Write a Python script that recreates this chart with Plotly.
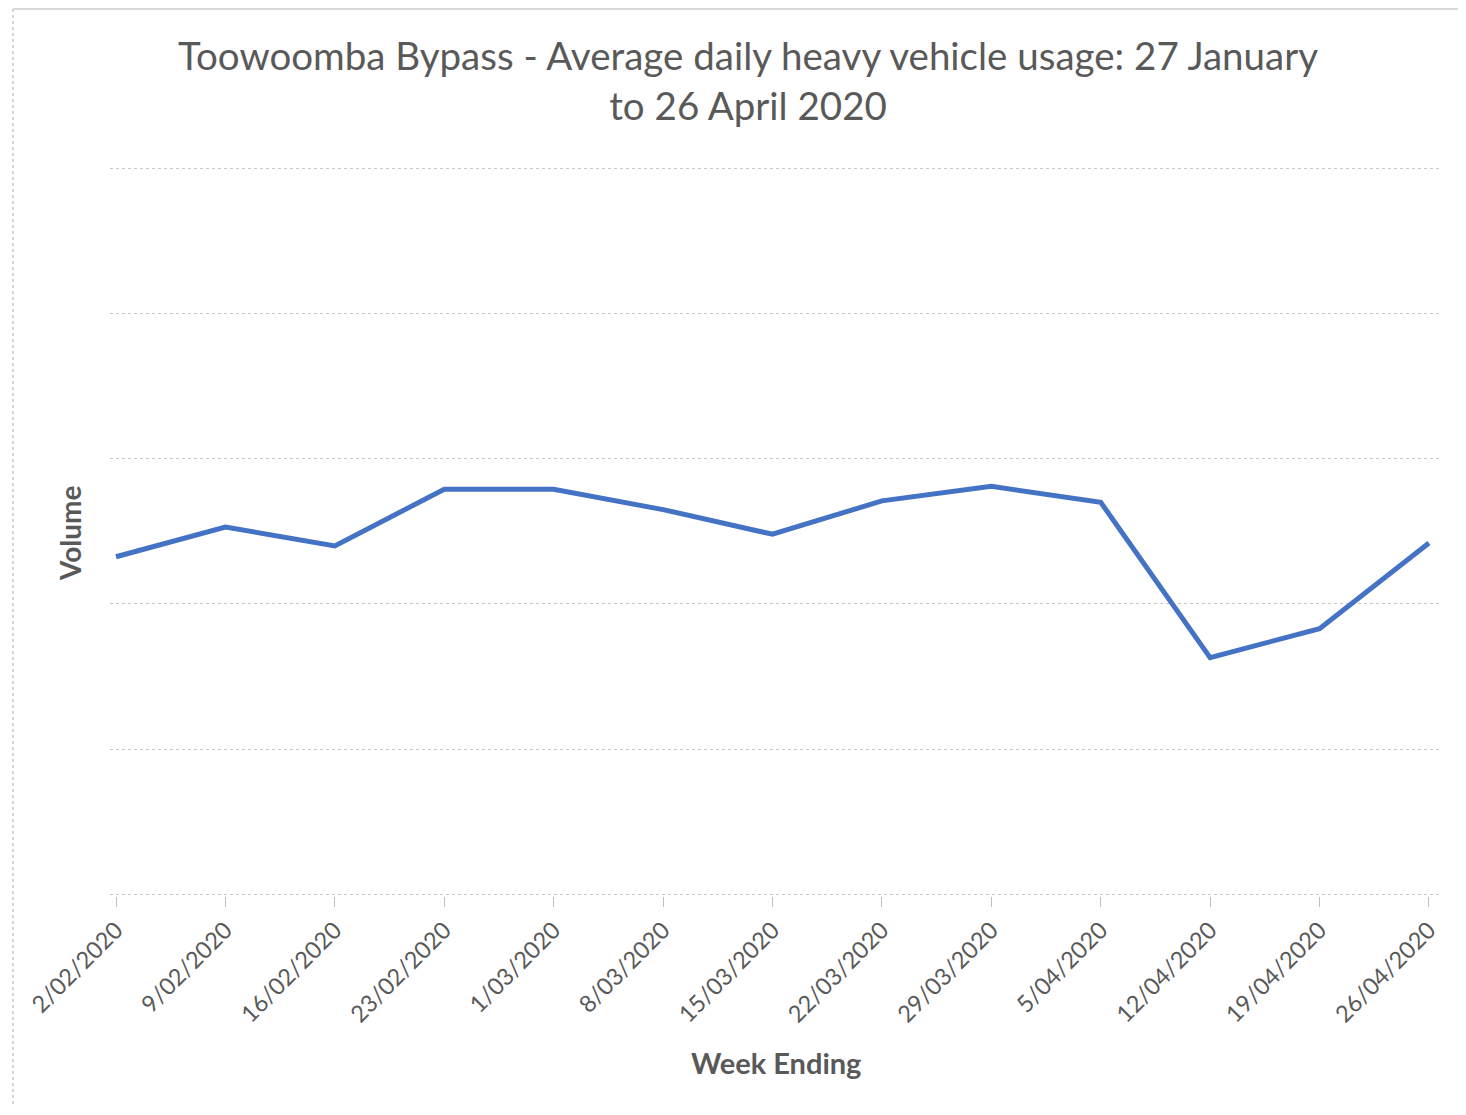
import plotly.graph_objects as go

# Week ending dates (category labels) and average daily heavy vehicle volume
week_ending = [
    "2/02/2020", "9/02/2020", "16/02/2020", "23/02/2020", "1/03/2020",
    "8/03/2020", "15/03/2020", "22/03/2020", "29/03/2020", "5/04/2020",
    "12/04/2020", "19/04/2020", "26/04/2020",
]
volume = [2325, 2530, 2400, 2790, 2790, 2650, 2480, 2710, 2810, 2700, 1630, 1830, 2420]

# page body has an 8px margin, so the figure is a bit smaller than the window
W, H = 1450, 1099
L, R, T, B = 102, 17, 159, 211
GREY = "#595959"
FONT = "Lato"

x_pos = list(range(len(week_ending)))


def px_to_paper_x(px):
    return (px - L) / (W - L - R)


def px_to_paper_y(py):
    return (H - B - py) / (H - T - B)


fig = go.Figure()
fig.add_trace(
    go.Scatter(
        x=x_pos,
        y=volume,
        mode="lines",
        line=dict(color="#4472C4", width=5),
        hoverinfo="x+y",
        showlegend=False,
    )
)

fig.update_layout(
    width=W,
    height=H,
    margin=dict(l=L, r=R, t=T, b=B),
    paper_bgcolor="white",
    plot_bgcolor="white",
    font=dict(family=FONT, color=GREY),
    annotations=[
        dict(
            text="Toowoomba Bypass - Average daily heavy vehicle usage: 27 January<br>to 26 April 2020",
            xref="paper", yref="paper",
            x=px_to_paper_x(740), y=px_to_paper_y(72),
            xanchor="center", yanchor="middle",
            showarrow=False,
            font=dict(size=38.5, color=GREY, family=FONT),
        ),
        dict(
            text="<b>Week Ending</b>",
            xref="paper", yref="paper",
            x=px_to_paper_x(768), y=px_to_paper_y(1054),
            xanchor="center", yanchor="middle",
            showarrow=False,
            font=dict(size=29, color=GREY, family=FONT),
        ),
        dict(
            text="<b>Volume</b>",
            xref="paper", yref="paper",
            x=px_to_paper_x(62), y=px_to_paper_y(525),
            xanchor="center", yanchor="middle",
            textangle=-90,
            showarrow=False,
            font=dict(size=28, color=GREY, family=FONT),
        ),
    ],
    shapes=[
        # outer chart frame remnants
        dict(type="line", xref="paper", yref="paper",
             x0=px_to_paper_x(5), x1=px_to_paper_x(W),
             y0=px_to_paper_y(1), y1=px_to_paper_y(1),
             line=dict(color="#d9d9d9", width=2)),
        dict(type="line", xref="paper", yref="paper",
             x0=px_to_paper_x(5), x1=px_to_paper_x(5),
             y0=px_to_paper_y(1), y1=px_to_paper_y(H),
             line=dict(color="#c8c8c8", width=1.5, dash="dot")),
    ],
)

fig.update_xaxes(
    range=[-0.055, 12.11],
    tickvals=x_pos,
    ticktext=week_ending,
    tickangle=-45,
    tickfont=dict(size=23.5, color=GREY, family=FONT),
    ticks="outside",
    ticklen=10,
    tickcolor="#bfbfbf",
    showgrid=False,
    zeroline=False,
    showline=False,
)
fig.update_yaxes(
    range=[-12, 5010],
    dtick=1000,
    showticklabels=False,
    showgrid=True,
    gridcolor="#c8c8c8",
    gridwidth=1,
    griddash="dot",
    zeroline=False,
    showline=False,
    ticks="",
)

fig.write_html("out.html")
